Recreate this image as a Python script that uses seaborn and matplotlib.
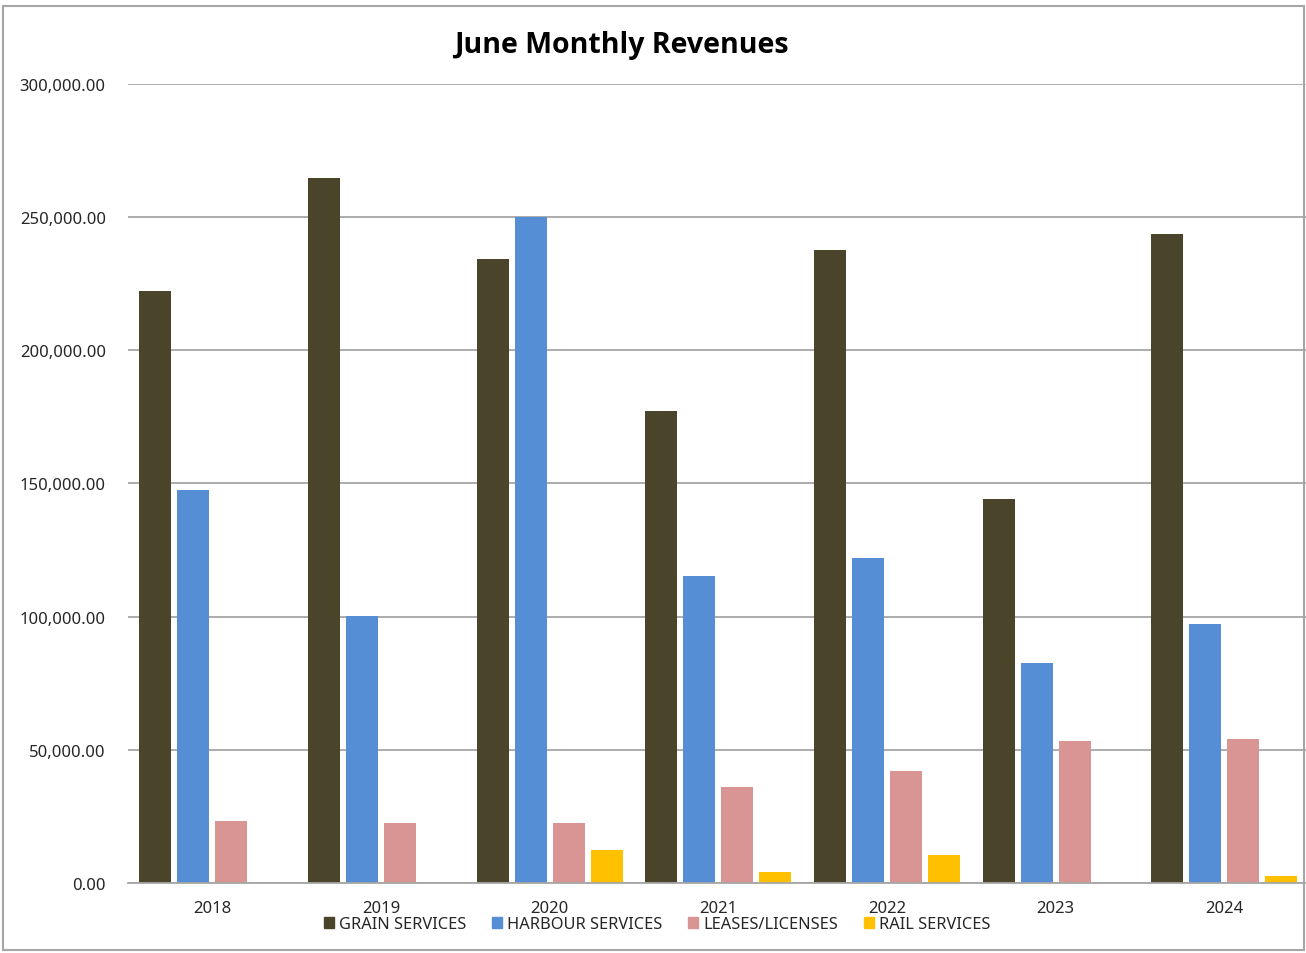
import pandas as pd
import numpy as np
import matplotlib.pyplot as plt
import seaborn as sns
from matplotlib.patches import Rectangle

# Revenue values
years = ['2018', '2019', '2020', '2021', '2022', '2023', '2024']
grain = [222300, 264700, 234300, 177200, 237700, 144200, 243700]
harbour = [147600, 100200, 250000, 115300, 122000, 82600, 97200]
leases = [23300, 22500, 22500, 36000, 42000, 53300, 54100]
rail = [0, 0, 12400, 4100, 10500, 0, 2600]
series = ['GRAIN SERVICES', 'HARBOUR SERVICES', 'LEASES/LICENSES', 'RAIL SERVICES']
colors = ['#4a452a', '#558ed5', '#d99594', '#ffc000']

df = pd.DataFrame({'Year': years, series[0]: grain, series[1]: harbour,
                   series[2]: leases, series[3]: rail})
df_long = df.melt(id_vars='Year', var_name='Service', value_name='Revenue')

sns.set_style('white')
plt.rcParams['font.family'] = ['Noto Sans', 'DejaVu Sans']

fig = plt.figure(figsize=(13.06, 9.54), dpi=100)
ax = fig.add_axes([0.098, 0.0734, 0.904, 0.8375])

sns.barplot(data=df_long, x='Year', y='Revenue', hue='Service', palette=colors,
            width=0.903, gap=0.16, saturation=1, linewidth=0, ax=ax, legend=False)

ax.set_ylim(0, 300000)
ax.set_xlim(-0.5, 6.5)
ax.set_yticks(np.arange(0, 300001, 50000))
ax.set_yticklabels([f'{v:,.2f}' for v in np.arange(0, 300001, 50000)])
ax.yaxis.grid(True, color='#a6a6a6', linewidth=1.3)
ax.set_axisbelow(True)
for s in ['left', 'right', 'top']:
    ax.spines[s].set_visible(False)
ax.spines['bottom'].set_color('#a6a6a6')
ax.spines['bottom'].set_linewidth(1.3)
ax.tick_params(axis='y', length=0, pad=16, labelsize=12, labelcolor='#262626')
ax.tick_params(axis='x', length=0, pad=12, labelsize=12, labelcolor='#262626')
ax.set_xlabel('')
ax.set_ylabel('')

fig.text(0.476, 0.952, 'June Monthly Revenues', ha='center', va='center',
         fontsize=20.5, fontweight='bold', family=['Open Sans', 'DejaVu Sans'],
         color='black')

handles = [Rectangle((0, 0), 1, 1, color=c) for c in colors]
fig.legend(handles, series, loc='center', bbox_to_anchor=(0.503, 0.030), ncol=4,
           frameon=False, handlelength=0.6, handleheight=0.6, handletextpad=0.3,
           columnspacing=1.6, fontsize=11.8, labelcolor='#262626')

fig.patches.append(Rectangle((0.0025, 0.003), 0.996, 0.99, transform=fig.transFigure,
                             fill=False, edgecolor='#a6a6a6', linewidth=1.5))

plt.savefig('out.png', dpi=100)
